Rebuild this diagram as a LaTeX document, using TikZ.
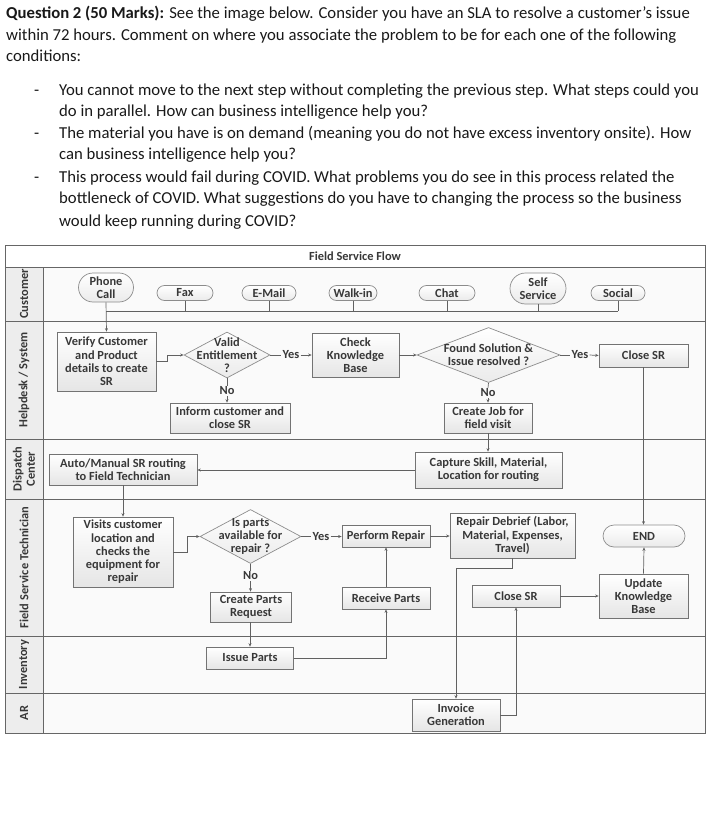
\documentclass[tikz,border=0pt]{standalone}
\usepackage{fontspec}
\setmainfont{Carlito}
\usetikzlibrary{shapes.geometric,shapes.misc,arrows.meta}
\begin{document}
\begin{tikzpicture}[x=1pt,y=-1pt,
  qline/.style={anchor=base west, inner sep=0pt, font=\fontsize{16.7}{20}\selectfont, text=black!90},
  lane/.style={draw=black!60, line width=0.9pt},
  txt/.style={font=\fontsize{12.4}{13.3}\selectfont\bfseries, text=black!78, align=center, inner sep=0pt},
  lanelbl/.style={txt, rotate=90},
  box/.style={txt, draw=black!55, line width=0.7pt, top color=white, bottom color=black!10},
  term/.style={txt, rounded rectangle, draw=black!45, line width=0.7pt, top color=white, bottom color=black!8},
  dia/.style={diamond, inner sep=0pt, draw=black!45, line width=0.7pt, top color=white, bottom color=black!8},
  conn/.style={draw=black!62, line width=0.7pt},
  arr/.style={conn, -{Stealth[length=3.5pt,width=3pt]}},
  yn/.style={txt, inner sep=1pt}
]
\useasboundingbox (0,0) rectangle (720,826);
\fill[white] (0,0) rectangle (720,826);

% ---------- question text ----------
\node[qline] (q1) at (6,19) {\textbf{Question 2 (50 Marks):} See the image below. Consider you have an SLA to resolve a customer’s issue};
\node[qline] (q2) at (6,41) {within 72 hours. Comment on where you associate the problem to be for each one of the following};
\node[qline] (q3) at (6,62) {conditions:};
\node[qline] (b1) at (34,96) {-};
\node[qline] (q4) at (59,96) {You cannot move to the next step without completing the previous step. What steps could you};
\node[qline] (q5) at (59,117) {do in parallel. How can business intelligence help you?};
\node[qline] (b2) at (34,139) {-};
\node[qline] (q6) at (59,139) {The material you have is on demand (meaning you do not have excess inventory onsite). How};
\node[qline] (q7) at (59,160) {can business intelligence help you?};
\node[qline] (b3) at (34,183) {-};
\node[qline] (q8) at (59,183) {This process would fail during COVID. What problems you do see in this process related the};
\node[qline] (q9) at (59,204) {bottleneck of COVID. What suggestions do you have to changing the process so the business};
\node[qline] (q10) at (59,226) {would keep running during COVID?};

% ---------- swimlane frame ----------
\fill[black!2] (5,267) rectangle (705,733);
\fill[black!7] (5,267) rectangle (43,733);
\draw[lane] (5,245) rectangle (705,733);
\draw[lane] (5,267) -- (705,267);
\draw[lane] (5,321) -- (705,321);
\draw[lane] (5,439) -- (705,439);
\draw[lane] (5,499) -- (705,499);
\draw[lane] (5,636) -- (705,636);
\draw[lane] (5,693) -- (705,693);
\draw[lane] (43,267) -- (43,733);

\node[txt] (title) at (355,256) {Field Service Flow};
\node[lanelbl] (lc) at (24,294) {Customer};
\node[lanelbl] (lh) at (24,380) {Helpdesk / System};
\node[lanelbl] (ld) at (24,469) {Dispatch\\Center};
\node[lanelbl] (lf) at (24,567.5) {Field Service Technician};
\node[lanelbl] (li) at (24,664.5) {Inventory};
\node[lanelbl] (la) at (24,713) {AR};

% ---------- customer lane ----------
\node[term, minimum width=55, minimum height=29] (phone) at (106,287.5) {Phone\\Call};
\node[term, minimum width=56, minimum height=15] (fax) at (185,293) {Fax};
\node[term, minimum width=54, minimum height=15] (email) at (269,293) {E-Mail};
\node[term, minimum width=48, minimum height=15] (walk) at (353,293) {Walk-in};
\node[term, minimum width=56, minimum height=15] (chat) at (447,293) {Chat};
\node[term, minimum width=56, minimum height=31] (self) at (538,288.5) {Self\\Service};
\node[term, minimum width=54, minimum height=15] (social) at (618,293) {Social};
\coordinate (busL) at (106,311);
\coordinate (busR) at (618,311);
\draw[conn] (busL) -- (busR);
\foreach \n in {fax,email,walk,chat,self,social}{
  \draw[conn] (\n.south) -- (\n.south |- busL);
}

% ---------- helpdesk lane ----------
\node[box, minimum width=99, minimum height=59] (verify) at (106.5,361.5) {Verify Customer\\and Product\\details to create\\SR};
\node[dia, minimum width=86, minimum height=46] (vdia) at (227,355) {};
\node[txt] (vtxt) at (vdia.center) {Valid\\Entitlement\\?};
\node[box, minimum width=87, minimum height=44] (kb) at (355.5,355) {Check\\Knowledge\\Base};
\node[dia, minimum width=143, minimum height=55] (fdia) at (488.5,355) {};
\node[txt] (ftxt) at (fdia.center) {Found Solution \&\\Issue resolved ?};
\node[box, minimum width=89, minimum height=23] (close1) at (643.5,355.5) {Close SR};
\node[box, minimum width=120, minimum height=30] (inform) at (230,418) {Inform customer and\\close SR};
\node[box, minimum width=88, minimum height=30] (job) at (488,418) {Create Job for\\field visit};

\node[yn] (yes1) at (291,355) {Yes};
\node[yn] (yes2) at (580,355) {Yes};
\node[yn] (no1) at (227,391) {No};
\node[yn] (no2) at (488,393) {No};

\draw[arr] (phone.south) -- (verify.north);
\draw[arr] (verify.east) -- ++(11,0) |- (vdia.west);
\draw[conn] (vdia.east) -- (yes1.west);
\draw[arr] (yes1.east) -- (kb.west);
\draw[arr] (kb.east) -- (fdia.west);
\draw[conn] (fdia.east) -- (yes2.west);
\draw[arr] (yes2.east) -- (close1.west);
\draw[conn] (vdia.south) -- (no1.north);
\draw[arr] (no1.south) -- (no1.south |- inform.north);
\draw[conn] (fdia.south) -- (no2.north);
\draw[arr] (no2.south) -- (no2.south |- job.north);

% ---------- dispatch lane ----------
\node[box, minimum width=148, minimum height=31] (auto) at (123,469.5) {Auto/Manual SR routing\\to Field Technician};
\node[box, minimum width=147, minimum height=36] (capture) at (488.5,470) {Capture Skill, Material,\\Location for routing};
\draw[arr] (job.south) -- (job.south |- capture.north);
\draw[arr] (capture.west) -- (capture.west -| auto.east);

% ---------- field service technician lane ----------
\node[box, minimum width=100, minimum height=70] (visits) at (123,552) {Visits customer\\location and\\checks the\\equipment for\\repair};
\node[dia, minimum width=101, minimum height=54] (pdia) at (250.5,536.5) {};
\node[txt] (ptxt) at (pdia.center) {Is parts\\available for\\repair ?};
\node[box, minimum width=88, minimum height=22] (perform) at (386,536) {Perform Repair};
\node[box, minimum width=125, minimum height=45] (debrief) at (512.5,535.5) {Repair Debrief (Labor,\\Material, Expenses,\\Travel)};
\node[term, minimum width=82, minimum height=22] (end) at (644,536) {END};
\node[box, minimum width=81, minimum height=30] (cparts) at (251,607) {Create Parts\\Request};
\node[box, minimum width=88, minimum height=22] (receive) at (386,598) {Receive Parts};
\node[box, minimum width=88, minimum height=22] (close2) at (516,596) {Close SR};
\node[box, minimum width=89, minimum height=44] (update) at (643.5,596) {Update\\Knowledge\\Base};
\node[yn] (yes3) at (321,536.5) {Yes};
\node[yn] (no3) at (250.5,576) {No};

\draw[arr] (auto.south) -- (visits.north);
\draw[arr] (visits.east) -- ++(14,0) |- (pdia.west);
\draw[conn] (pdia.east) -- (yes3.west);
\draw[arr] (yes3.east) -- (yes3.east -| perform.west);
\draw[arr] (perform.east) -- (perform.east -| debrief.west);
\draw[conn] (pdia.south) -- (no3.north);
\draw[arr] (no3.south) -- (no3.south |- cparts.north);
\draw[arr] (receive.north) -- (perform.south);
\draw[arr] (close2.east) -- (update.west);
\draw[arr] (update.north) -- (end.south);
\draw[arr] (close1.south) -- (close1.south |- end.north);

% ---------- inventory lane ----------
\node[box, minimum width=87, minimum height=22] (issue) at (250,658) {Issue Parts};
\draw[arr] (cparts.south -| issue.north) -- (issue.north);
\draw[arr] (issue.east) -| (receive.south);

% ---------- AR lane ----------
\node[box, minimum width=88, minimum height=32] (invoice) at (456,715) {Invoice\\Generation};
\draw[arr] (debrief.south) -- ++(0,10) -| (invoice.north);
\draw[arr] (invoice.east) -| (close2.south);
\end{tikzpicture}
\end{document}
